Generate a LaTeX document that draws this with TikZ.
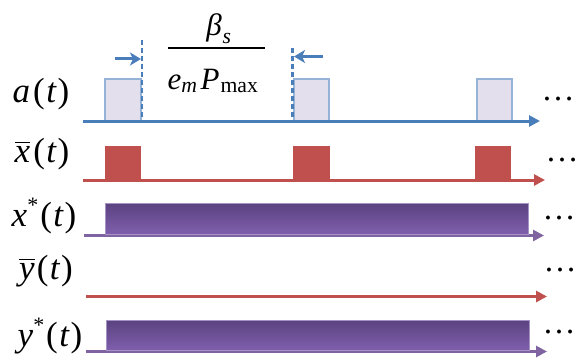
\documentclass[tikz,border=0pt]{standalone}
\usepackage{amsmath}
\usepackage{fontspec}
\setmainfont{Liberation Serif}
\newfontfamily\tnr{Liberation Serif}
\usetikzlibrary{arrows.meta}
\definecolor{ablue}{HTML}{4A7EBB}
\definecolor{boxfill}{HTML}{E4DFEC}
\definecolor{boxline}{HTML}{95B3D7}
\definecolor{xred}{HTML}{C0504D}
\definecolor{ptop}{HTML}{5B4280}
\definecolor{pbot}{HTML}{7F5FAD}
\definecolor{pline}{HTML}{8064A2}
\definecolor{pedge}{HTML}{A593C6}
\newcommand{\iv}[1]{{\tnr\itshape #1}}
\newcommand{\starsup}{\raisebox{0.42em}{\fontsize{22}{22}\selectfont *}}
\begin{document}
\begin{tikzpicture}[x=1pt,y=-1pt,
  axisline/.style={line width=3pt,-{Triangle[length=11pt,width=11pt]}},
  ablock/.style={draw=boxline,line width=1.2pt,fill=boxfill},
  xblock/.style={fill=xred,draw=none},
  pblock/.style={top color=ptop,bottom color=pbot,draw=pedge,line width=1pt},
  guide/.style={ablue,line width=2.6pt,dash pattern=on 5pt off 3pt},
  pointer/.style={ablue,line width=3pt,-{Stealth[length=11pt,width=13pt,inset=3pt]}},
  lbl/.style={font=\tnr\fontsize{35}{37}\selectfont,inner sep=0pt},
  frac/.style={font=\tnr\fontsize{31}{33}\selectfont,inner sep=0pt,anchor=base},
  more/.style={font=\tnr\fontsize{33}{33}\selectfont,inner sep=0pt}]
\useasboundingbox (0,0) rectangle (581,361);
% ---------- a(t)
\draw[ablock] (105,79) rectangle (141,121);
\draw[ablock] (294,79) rectangle (329,121);
\draw[ablock] (477,79) rectangle (512,121);
\coordinate (a0) at (83,121);
\coordinate (a1) at (540,121);
\draw[axisline,ablue] (a0) -- (a1);
\coordinate (g1t) at (142,40);
\coordinate (g1b) at (142,121);
\coordinate (g2t) at (292.5,48);
\coordinate (g2b) at (292.5,121);
\draw[guide] (g1t) -- (g1b);
\draw[guide] (g2t) -- (g2b);
\coordinate (p1s) at (115,59);
\coordinate (p1e) at (141,59);
\coordinate (p2s) at (323,56.5);
\coordinate (p2e) at (294,56.5);
\draw[pointer] (p1s) -- (p1e);
\draw[pointer] (p2s) -- (p2e);
% fraction
\node[frac] (num) at (219,36) {$\text{\iv{β}}_{\kern1pt\text{\iv{s}}}$};
\coordinate (bar0) at (168,48.5);
\coordinate (bar1) at (265,48.5);
\draw[line width=2pt] (bar0) -- (bar1);
\node[frac] (den) at (213,89) {$\text{\iv{e}}_{\text{\iv{m}}}\kern3pt\text{\iv{P}}_{\kern1pt\text{\tnr max}}$};
% ---------- xbar(t)
\fill[xblock] (105,146) rectangle (141,180);
\fill[xblock] (293,146) rectangle (330,180);
\fill[xblock] (475,146) rectangle (511,180);
\coordinate (x0) at (83,180);
\coordinate (x1) at (545,180);
\draw[axisline,xred] (x0) -- (x1);
% ---------- x*(t)
\coordinate (s0) at (84,235.5);
\coordinate (s1) at (544,235.5);
\draw[axisline,pline] (s0) -- (s1);
\draw[pblock] (105,203) rectangle (528,234);
% ---------- ybar(t)
\coordinate (y0) at (86,296.5);
\coordinate (y1) at (547,296.5);
\draw[axisline,xred] (y0) -- (y1);
% ---------- y*(t)
\coordinate (t0) at (86,351.5);
\coordinate (t1) at (547,351.5);
\draw[axisline,pline] (t0) -- (t1);
\draw[pblock] (106,320) rectangle (529,350);
% ---------- labels
\node[lbl] (la) at (41,94) {\iv{a}\kern3pt(\kern1.5pt\iv{t}\kern1.5pt)};
\node[lbl] (lx) at (42,154) {$\overline{\hbox{\iv{x}}}$\kern3pt(\kern1.5pt\iv{t}\kern1.5pt)};
\node[lbl] (lxs) at (44,216) {\iv{x}\starsup\kern2pt(\kern1.5pt\iv{t}\kern1.5pt)};
\node[lbl] (ly) at (46,271) {$\overline{\hbox{\iv{y}}}$\kern2pt(\kern1.5pt\iv{t}\kern1.5pt)};
\node[lbl] (lys) at (50,336) {\iv{y}\starsup\kern2pt(\kern1.5pt\iv{t}\kern1.5pt)};
% ---------- dots
\node[more] (d1) at (558,99) {…};
\node[more] (d2) at (562,160) {…};
\node[more] (d3) at (559,218.5) {…};
\node[more] (d4) at (560,270) {…};
\node[more] (d5) at (559,332.5) {…};
\end{tikzpicture}
\end{document}
